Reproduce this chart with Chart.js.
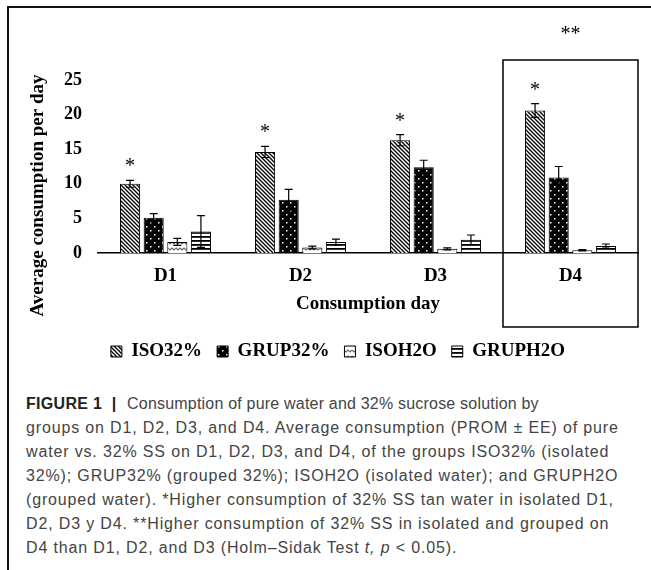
<!DOCTYPE html>
<html>
<head>
<meta charset="utf-8">
<script src="https://cdn.jsdelivr.net/npm/chart.js@4"></script>
<style>
  html, body { margin: 0; padding: 0; background: #fff; }
  body { width: 651px; height: 570px; position: relative; overflow: hidden; }
  .frame { position: absolute; left: 7px; top: 6px; width: 660px; height: 600px;
           border-left: 2px solid #111; border-top: 2px solid #111; }
  .chart-box { position: absolute; left: 0; top: 0; width: 651px; height: 375px; }
  .caption { position: absolute; left: 26px; top: 392px; font-family: "Liberation Sans", Arial, sans-serif;
             font-size: 16px; line-height: 24px; letter-spacing: 0.85px; color: #444; white-space: nowrap; }
  .caption b { color: #222; letter-spacing: 0.3px; }
  .caption .first { letter-spacing: 0.2px; }
</style>
</head>
<body>
<div class="frame"></div>
<div class="chart-box"><canvas id="consumptionChart"></canvas></div>
<div class="caption">
<b>FIGURE 1&nbsp;&nbsp;|</b>&nbsp; <span class="first">Consumption of pure water and 32% sucrose solution by</span><br>
groups on D1, D2, D3, and D4. Average consumption (PROM ± EE) of pure<br>
water vs. 32% SS on D1, D2, D3, and D4, of the groups ISO32% (isolated<br>
32%); GRUP32% (grouped 32%); ISOH2O (isolated water); and GRUPH2O<br>
(grouped water). *Higher consumption of 32% SS tan water in isolated D1,<br>
D2, D3 y D4. **Higher consumption of 32% SS in isolated and grouped on<br>
D4 than D1, D2, and D3 (Holm–Sidak Test <i>t, p</i> &lt; 0.05).
</div>
<script>
const days = ['D1', 'D2', 'D3', 'D4'];
const yTicks = [0, 5, 10, 15, 20, 25];

const iso32 = [10.0, 14.6, 16.3, 20.6];
const iso32Err = [0.5, 0.8, 0.8, 1.0];
const grup32 = [5.1, 7.7, 12.4, 10.9];
const grup32Err = [0.6, 1.5, 1.0, 1.6];
const isoH2O = [1.6, 0.8, 0.6, 0.4];
const isoH2OErr = [0.5, 0.2, 0.15, 0.1];
const grupH2O = [3.1, 1.6, 1.9, 1.0];
const grupH2OErr = [2.3, 0.4, 0.7, 0.3];

const starDays = [0, 1, 2, 3];      // * above ISO32% bars
const boxedDay = 3;                 // ** box around D4

const serif = '"Liberation Serif", "Times New Roman", serif';

function makePattern(w, h, paint) {
    const c = document.createElement('canvas');
    c.width = w; c.height = h;
    const g = c.getContext('2d');
    paint(g, w, h);
    return g.createPattern(c, 'repeat');
}

const diagPattern = makePattern(4, 4, (g, w, h) => {
    g.fillStyle = '#fff'; g.fillRect(0, 0, w, h);
    g.strokeStyle = '#000'; g.lineWidth = 1.3;
    g.beginPath();
    g.moveTo(-1, -1); g.lineTo(5, 5);
    g.moveTo(-1, 3); g.lineTo(1, 5);
    g.moveTo(3, -1); g.lineTo(5, 1);
    g.stroke();
});

const dotPattern = makePattern(8, 8, (g, w, h) => {
    g.fillStyle = '#000'; g.fillRect(0, 0, w, h);
    g.fillStyle = '#fff';
    g.fillRect(2, 2, 1.5, 1.5);
    g.fillRect(6, 6, 1.5, 1.5);
});

const wavePattern = makePattern(8, 6, (g, w, h) => {
    g.fillStyle = '#fff'; g.fillRect(0, 0, w, h);
    g.strokeStyle = '#666'; g.lineWidth = 1.1;
    g.beginPath();
    g.moveTo(0, 2); g.lineTo(2, 4); g.lineTo(4, 2); g.lineTo(6, 4); g.lineTo(8, 2);
    g.stroke();
});

const stripePattern = makePattern(4, 4, (g, w, h) => {
    g.fillStyle = '#fff'; g.fillRect(0, 0, w, h);
    g.fillStyle = '#000'; g.fillRect(0, 0, w, 1.8);
});

const errorSets = [iso32Err, grup32Err, isoH2OErr, grupH2OErr];

const figureExtras = {
    id: 'figureExtras',
    afterDatasetsDraw(chart) {
        const ctx = chart.ctx;
        const x = chart.scales.x;
        const y = chart.scales.y;
        ctx.save();
        ctx.strokeStyle = '#000';
        ctx.lineWidth = 1.2;
        chart.data.datasets.forEach((ds, di) => {
            const meta = chart.getDatasetMeta(di);
            meta.data.forEach((bar, i) => {
                const v = ds.data[i];
                const e = errorSets[di][i];
                const top = y.getPixelForValue(v + e);
                const bot = y.getPixelForValue(Math.max(0, v - e));
                ctx.beginPath();
                ctx.moveTo(bar.x, top); ctx.lineTo(bar.x, bot);
                ctx.moveTo(bar.x - 4, top); ctx.lineTo(bar.x + 4, top);
                ctx.moveTo(bar.x - 4, bot); ctx.lineTo(bar.x + 4, bot);
                ctx.stroke();
            });
        });

        // significance stars
        ctx.fillStyle = '#000';
        ctx.textAlign = 'center';
        ctx.textBaseline = 'alphabetic';
        ctx.font = '20px ' + serif;
        const isoMeta = chart.getDatasetMeta(0);
        starDays.forEach(i => {
            const bar = isoMeta.data[i];
            const top = y.getPixelForValue(iso32[i] + iso32Err[i]);
            ctx.fillText('*', bar.x, top - 8);
        });

        // box around D4
        const half = (x.getPixelForValue(1) - x.getPixelForValue(0)) / 2;
        const cx = x.getPixelForValue(boxedDay);
        const boxTop = chart.chartArea.top - 20;
        ctx.lineWidth = 1.5;
        ctx.strokeRect(cx - half, boxTop, half * 2, x.bottom - boxTop);
        ctx.fillText('**', cx, boxTop - 20);

        // y axis title
        ctx.font = 'bold 19px ' + serif;
        ctx.textBaseline = 'middle';
        ctx.translate(chart.chartArea.left - 60, (chart.chartArea.top + x.bottom) / 2 - 8);
        ctx.rotate(-Math.PI / 2);
        ctx.fillText('Average consumption per day', 0, 0);
        ctx.restore();
    }
};

new Chart(document.getElementById('consumptionChart'), {
    type: 'bar',
    data: {
        labels: days,
        datasets: [
            { label: 'ISO32%', data: iso32, backgroundColor: diagPattern },
            { label: 'GRUP32%', data: grup32, backgroundColor: dotPattern },
            { label: 'ISOH2O', data: isoH2O, backgroundColor: wavePattern },
            { label: 'GRUPH2O', data: grupH2O, backgroundColor: stripePattern }
        ].map(ds => Object.assign(ds, {
            borderColor: '#000',
            borderWidth: 1,
            categoryPercentage: 0.70,
            barPercentage: 0.85
        }))
    },
    options: {
        responsive: true,
        maintainAspectRatio: false,
        animation: false,
        layout: { padding: { left: 38, right: 13, top: 80, bottom: 4 } },
        plugins: {
            tooltip: { enabled: false },
            legend: {
                position: 'bottom',
                labels: {
                    boxWidth: 11,
                    boxHeight: 11,
                    padding: 15,
                    color: '#000',
                    font: { family: serif, weight: 'bold', size: 19 }
                }
            }
        },
        scales: {
            x: {
                offset: true,
                grid: { display: false, drawTicks: false },
                border: { display: true, color: '#000', width: 1.5 },
                ticks: { color: '#000', padding: 12, font: { family: serif, weight: 'bold', size: 19 } },
                title: {
                    display: true,
                    text: 'Consumption day',
                    color: '#000',
                    padding: { top: 0, bottom: 12 },
                    font: { family: serif, weight: 'bold', size: 19 }
                },
                afterFit(scale) { scale.height = 74; }
            },
            y: {
                min: 0,
                max: 25,
                grid: { display: false, drawTicks: false },
                border: { display: false },
                afterBuildTicks(scale) { scale.ticks = yTicks.map(v => ({ value: v })); },
                ticks: { color: '#000', padding: 16, font: { family: serif, weight: 'bold', size: 18 } },
                afterFit(scale) { scale.width = 60; }
            }
        }
    },
    plugins: [figureExtras]
});
</script>
</body>
</html>
